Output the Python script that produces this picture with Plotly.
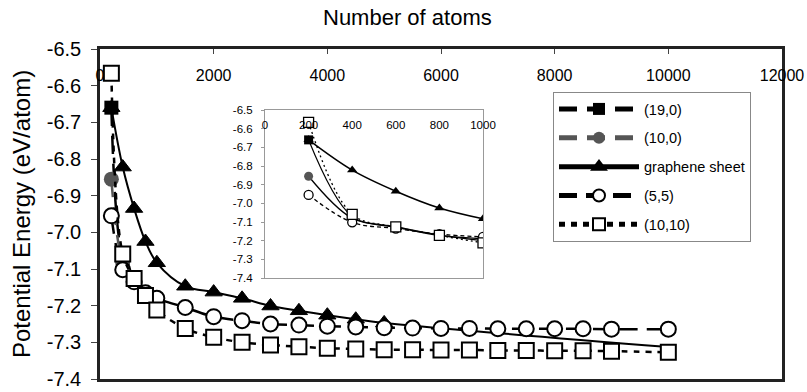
import plotly.graph_objects as go

# ---------------- data ----------------
x_tubes = [200, 400, 600, 800, 1000, 1500, 2000, 2500, 3000, 3500, 4000, 4500,
           5000, 5500, 6000, 6500, 7000, 7500, 8000, 8500, 9000, 10000]
e_55 = [-6.955, -7.102, -7.135, -7.165, -7.180, -7.205, -7.230, -7.241, -7.250,
        -7.253, -7.256, -7.258, -7.260, -7.261, -7.262, -7.262, -7.263, -7.263,
        -7.263, -7.263, -7.264, -7.264]
e_1010 = [-6.566, -7.059, -7.126, -7.172, -7.212, -7.262, -7.286, -7.300, -7.307,
          -7.312, -7.316, -7.318, -7.320, -7.320, -7.321, -7.321, -7.322, -7.322,
          -7.323, -7.323, -7.324, -7.327]
x_zig = [200, 400, 600, 800, 1000]
e_190 = [-6.660, -7.070, -7.125, -7.170, -7.200]
e_100 = [-6.855, -7.080, -7.128, -7.172, -7.190]
x_graph = [200, 400, 600, 800, 1000, 1500, 2000, 2500, 3000, 3500, 4000, 4500, 5000, 10000]
e_graph = [-6.660, -6.822, -6.935, -7.025, -7.083, -7.147, -7.163, -7.180, -7.201,
           -7.214, -7.226, -7.237, -7.247, -7.313]

names = ["(19,0)", "(10,0)", "graphene sheet", "(5,5)", "(10,10)"]
x_ticks = [0, 2000, 4000, 6000, 8000, 10000, 12000]
x_labels = ["0", "2000", "4000", "6000", "8000", "10000", "12000"]
x_ticks_inset = [0, 200, 400, 600, 800, 1000]
x_labels_inset = ["0", "200", "400", "600", "800", "1000"]
y_ticks = [-6.5, -6.6, -6.7, -6.8, -6.9, -7.0, -7.1, -7.2, -7.3, -7.4]
y_labels = ["-6.5", "-6.6", "-6.7", "-6.8", "-6.9", "-7.0", "-7.1", "-7.2", "-7.3", "-7.4"]

FONT = "Liberation Sans, Arial, sans-serif"

series = [
    (x_zig, e_190), (x_zig, e_100), (x_graph, e_graph), (x_tubes, e_55), (x_tubes, e_1010)
]

main_style = [
    dict(line=dict(color="black", width=2.5, dash="18px,10px"),
         marker=dict(symbol="square", size=14, color="black")),
    dict(line=dict(color="#555555", width=2.5, dash="18px,10px"),
         marker=dict(symbol="circle", size=15, color="#555555")),
    dict(line=dict(color="black", width=2),
         marker=dict(symbol="triangle-up", size=[15 if v <= 5000 else 0 for v in x_graph],
                     color="#000000", opacity=1,
                     line=dict(color="#000000", width=1))),
    dict(line=dict(color="black", width=2.5, dash="18px,9px"),
         marker=dict(symbol="circle", size=15, color="white",
                     line=dict(color="black", width=2))),
    dict(line=dict(color="black", width=2.5, dash="6px,6px"),
         marker=dict(symbol="square", size=15, color="white",
                     line=dict(color="black", width=2))),
]

inset_style = [
    dict(line=dict(color="black", width=1.3),
         marker=dict(symbol="square", size=9, color="black")),
    dict(line=dict(color="black", width=1.3),
         marker=dict(symbol="circle", size=9, color="#555555")),
    dict(line=dict(color="black", width=1.5),
         marker=dict(symbol="triangle-up", size=9, color="black")),
    dict(line=dict(color="black", width=1.3, dash="4px,3px"),
         marker=dict(symbol="circle", size=9, color="white",
                     line=dict(color="black", width=1.3))),
    dict(line=dict(color="black", width=1.3, dash="2px,3px"),
         marker=dict(symbol="square", size=10, color="white",
                     line=dict(color="black", width=1.3))),
]

fig = go.Figure()

for i, ((xs, ys), name) in enumerate(zip(series, names)):
    fig.add_trace(go.Scatter(
        x=xs, y=ys, name=name, mode="lines+markers",
        line_shape="spline", legendgroup=name,
        **main_style[i]))

for i, ((xs, ys), name) in enumerate(zip(series, names)):
    xi = [a for a in xs if a <= 1000]
    yi = [b for a, b in zip(xs, ys) if a <= 1000]
    fig.add_trace(go.Scatter(
        x=xi, y=yi, name=name, mode="lines+markers", showlegend=False,
        line_shape="spline", xaxis="x2", yaxis="y2", **inset_style[i]))

W, H = 807, 392
L, R, T, B = 100, 25, 49, 13
pw, ph = W - L - R, H - T - B


def px_x(p):
    return (p - L) / pw


def px_y(p):
    return (H - B - p) / ph


fig.update_layout(
    width=W, height=H, autosize=False,
    margin=dict(l=L, r=R, t=T, b=B, pad=0, autoexpand=False),
    paper_bgcolor="white", plot_bgcolor="white",
    font=dict(family=FONT, color="black"),
    showlegend=True,
    legend=dict(x=px_x(553), y=px_y(92), xanchor="left", yanchor="top",
                bgcolor="white", bordercolor="#888888", borderwidth=1,
                font=dict(size=14.5, family=FONT, color="black"),
                itemwidth=80, tracegroupgap=7, itemsizing="constant",
                traceorder="grouped"),
    xaxis=dict(range=[0, 12000], tickvals=x_ticks, ticktext=x_labels, side="top",
               ticks="inside", ticklen=5, tickcolor="#444",
               ticklabelposition="inside", ticklabeloverflow="allow",
               ticklabelstandoff=16, automargin=False,
               showline=True, linecolor="#222", linewidth=2.5, mirror=True,
               showgrid=False, zeroline=False,
               tickfont=dict(size=16, family=FONT, color="black")),
    yaxis=dict(range=[-7.4, -6.5], tickvals=y_ticks, ticktext=y_labels,
               ticks="outside", ticklen=6, tickcolor="#444",
               ticklabelstandoff=6, automargin=False,
               showline=True, linecolor="#222", linewidth=2.5, mirror=True,
               showgrid=False, zeroline=False,
               tickfont=dict(size=20, family=FONT, color="black")),
    xaxis2=dict(domain=[px_x(265), px_x(483)], anchor="y2",
                range=[0, 1000], tickvals=x_ticks_inset, ticktext=x_labels_inset,
                side="top",
                ticks="", ticklabelposition="inside", ticklabeloverflow="allow",
                ticklabelstandoff=10, automargin=False,
                showline=True, linecolor="#999", linewidth=1, mirror=True,
                showgrid=False, zeroline=False,
                tickfont=dict(size=11.5, family=FONT, color="black")),
    yaxis2=dict(domain=[px_y(278), px_y(110)], anchor="x2",
                range=[-7.4, -6.5], tickvals=y_ticks, ticktext=y_labels,
                ticks="outside", ticklen=3, tickcolor="#999",
                ticklabelstandoff=6, automargin=False,
                showline=True, linecolor="#999", linewidth=1, mirror=True,
                showgrid=False, zeroline=False,
                tickfont=dict(size=11.5, family=FONT, color="black")),
    annotations=[
        dict(text="Number of atoms", xref="paper", yref="paper",
             x=px_x(407), y=px_y(17), xanchor="center", yanchor="middle",
             showarrow=False, font=dict(size=22, family=FONT, color="black")),
        dict(text="Potential Energy (eV/atom)", xref="paper", yref="paper",
             x=px_x(21), y=px_y(214), xanchor="center", yanchor="middle",
             textangle=-90, showarrow=False,
             font=dict(size=24, family=FONT, color="black")),
    ],
)

fig.write_html("out.html")
